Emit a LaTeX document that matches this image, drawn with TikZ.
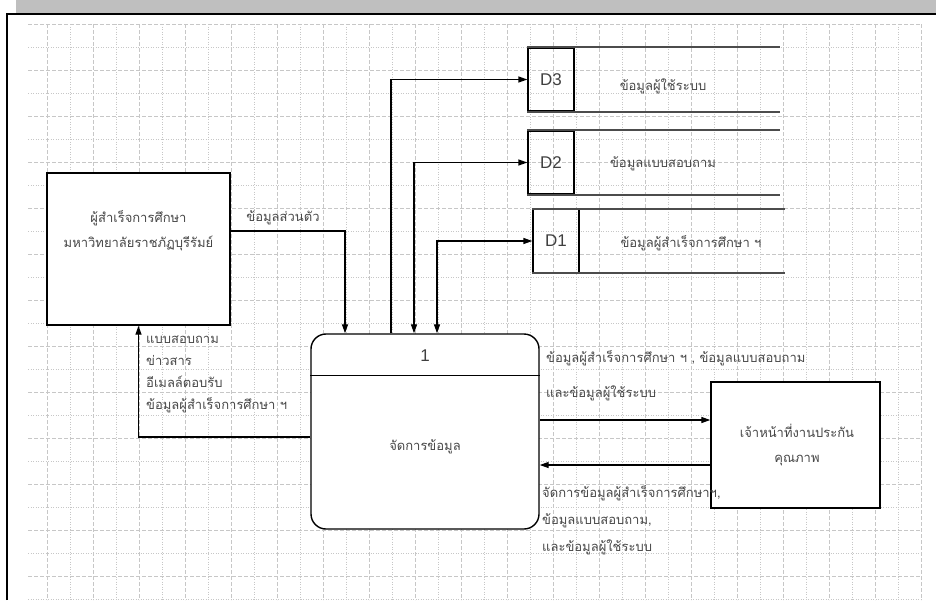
\documentclass[tikz,border=0pt]{standalone}
\usepackage{fontspec}
\setmainfont{Liberation Sans}
\newfontfamily\thai[Script=Thai]{Loma}
\usetikzlibrary{arrows.meta}

\tikzset{
  gridmajor/.style={black!22, line width=0.8pt, dash pattern=on 4pt off 2pt},
  gridminor/.style={black!22, line width=0.8pt, dash pattern=on 1pt off 1.5pt},
  entity/.style={draw, line width=1.4pt, fill=white, minimum width=183pt, minimum height=152pt},
  process/.style={draw, line width=1.4pt, fill=white, rounded corners=15pt, minimum width=228pt, minimum height=195pt},
  storecell/.style={draw, line width=1.3pt, minimum width=46pt, minimum height=63pt, font=\fontsize{17}{19}\selectfont, text=black!75},
  storeline/.style={black!70, line width=1.8pt},
  flow/.style={line width=1.3pt},
  thaitext/.style={font=\thai\fontsize{13}{22}\selectfont, text=black!72, inner sep=0pt},
  idtext/.style={font=\fontsize{17}{19}\selectfont, text=black!75}
}

\begin{document}
\begin{tikzpicture}[x=1pt,y=-1pt,>={Triangle[length=9pt,width=6pt]}]
  \useasboundingbox (0,0) rectangle (936,600);
  % page band and frame
  \fill[black!25] (16,0) rectangle (936,13);
  \draw[line width=2.5pt] (7,600) -- (7,14) -- (936,14);
  % grid of the drawing sheet
  \foreach \k in {0,...,25} {
    \ifodd\k \def\pat{gridminor}\else \def\pat{gridmajor}\fi
    \draw[\pat] (28,24+23*\k) -- (921,24+23*\k);
  }
  \foreach \k in {1,...,39} {
    \ifodd\k \def\pat{gridmajor}\else \def\pat{gridminor}\fi
    \draw[\pat] (24+23*\k,24) -- (24+23*\k,600);
  }

  % external entities
  \node[entity] (grad) at (138.5,249) {};
  \node[thaitext, align=center, font=\thai\fontsize{13}{25}\selectfont] (gradtxt) at (138.5,231)
    {ผู้สำเร็จการศึกษา\\มหาวิทยาลัยราชภัฏบุรีรัมย์};
  \node[entity, minimum width=169pt, minimum height=126pt] (qa) at (795.5,445) {};
  \node[thaitext, align=center, font=\thai\fontsize{13}{25}\selectfont] (qatxt) at (797,445.5)
    {เจ้าหน้าที่งานประกัน\\คุณภาพ};

  % process 1
  \node[process] (proc) at (425,431.5) {};
  \draw[line width=1.4pt] ([yshift=-42]proc.north west) -- ([yshift=-42]proc.north east);
  \node[idtext] (procid) at (425,356) {1};
  \node[thaitext] (procname) at (425,447) {จัดการข้อมูล};

  % data stores
  \foreach \id/\cx/\cy/\tx/\ty/\txt in {D3/551/79.5/663/86/ข้อมูลผู้ใช้ระบบ,
      D2/551/162.5/663/164/ข้อมูลแบบสอบถาม,
      D1/556/241/691/243/ข้อมูลผู้สำเร็จการศึกษา ฯ} {
    \node[storecell] (\id) at (\cx,\cy) {\id};
    \draw[storeline] (\id.north west) -- ++(253,0);
    \draw[storeline] (\id.south west) -- ++(253,0);
    \node[thaitext] (\id txt) at (\tx,\ty) {\txt};
  }

  % data flows
  \draw[flow,->] ([yshift=18]grad.east) -| ([xshift=-80]proc.north);
  \node[thaitext] (personal) at (283,218) {ข้อมูลส่วนตัว};
  \draw[flow,->] ([xshift=-34]proc.north) |- (D3.west);
  \draw[flow,<->] (D2.west) -| ([xshift=-11]proc.north);
  \draw[flow,<->] (D1.west) -| ([xshift=12]proc.north);
  \draw[flow,->] ([yshift=-5.5]proc.west) -| (grad.south);
  \node[thaitext, anchor=west, align=left] (replies) at (146,374)
    {แบบสอบถาม\\ข่าวสาร\\อีเมลล์ตอบรับ\\ข้อมูลผู้สำเร็จการศึกษา ฯ};
  \coordinate (qin) at ([yshift=25]qa.west);
  \coordinate (qout) at ([yshift=-20]qa.west);
  \draw[flow,->] (proc.east |- qin) -- (qin);
  \draw[flow,->] (qout) -- (proc.east |- qout);
  \node[thaitext, anchor=west, align=left, font=\thai\fontsize{13}{35}\selectfont] (toqa) at (546,375.5)
    {ข้อมูลผู้สำเร็จการศึกษา ฯ , ข้อมูลแบบสอบถาม\\และข้อมูลผู้ใช้ระบบ};
  \node[thaitext, anchor=west, align=left, font=\thai\fontsize{13}{27}\selectfont] (fromqa) at (542,520)
    {จัดการข้อมูลผู้สำเร็จการศึกษาฯ,\\ข้อมูลแบบสอบถาม,\\และข้อมูลผู้ใช้ระบบ};
\end{tikzpicture}
\end{document}
